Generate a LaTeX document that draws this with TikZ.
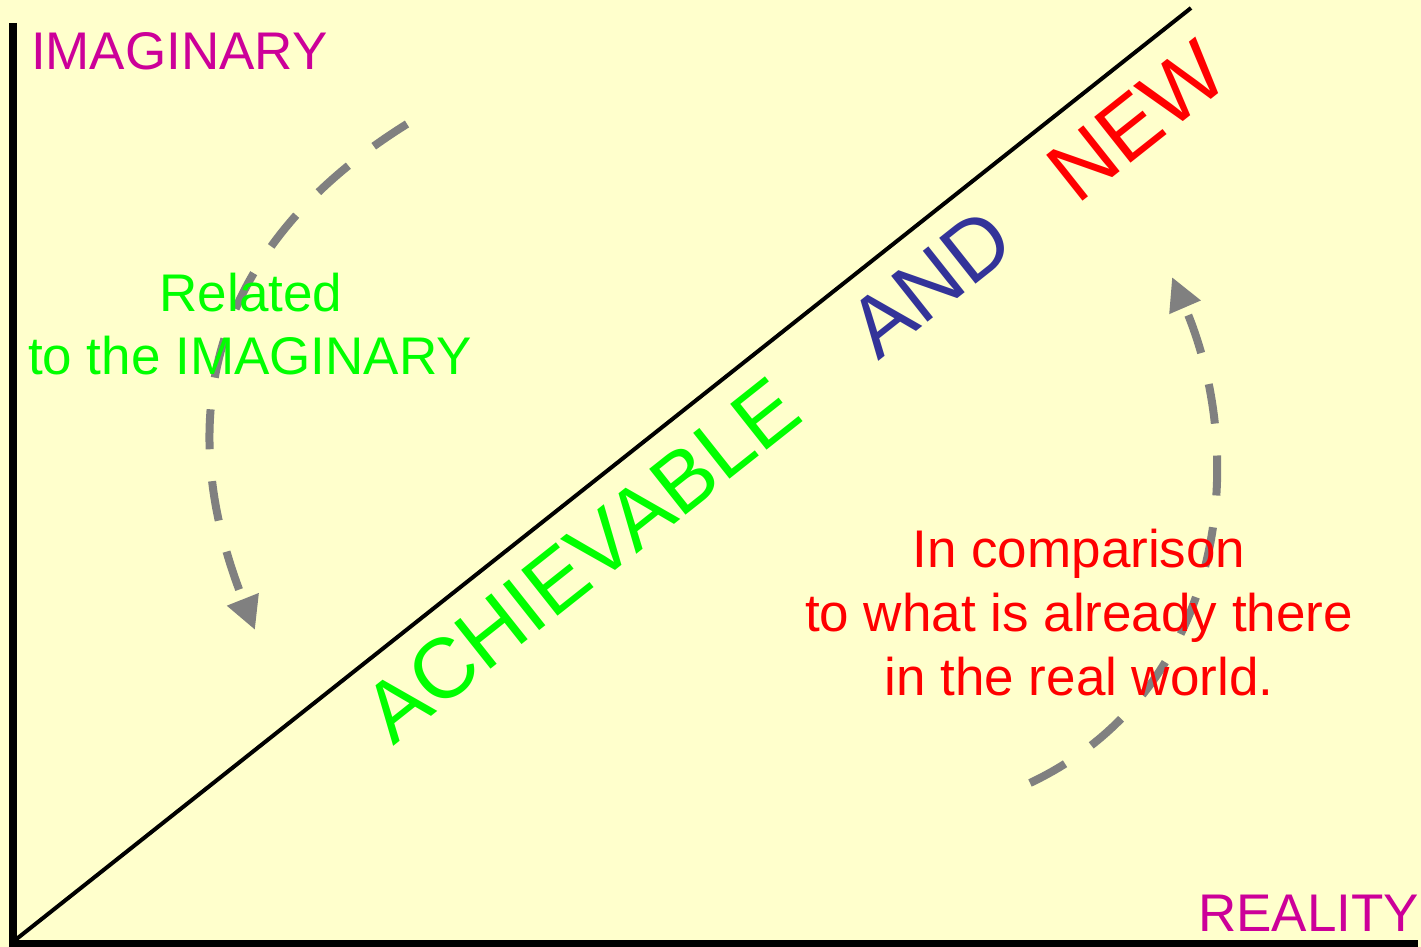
\documentclass[tikz,border=0pt]{standalone}
\usepackage{fontspec}
\setmainfont{Liberation Sans}
\usetikzlibrary{arrows.meta}
\definecolor{bgyellow}{HTML}{FFFFCC}
\definecolor{axislbl}{HTML}{CC0099}
\definecolor{brightgreen}{HTML}{00FF00}
\definecolor{brightred}{HTML}{FF0000}
\definecolor{andblue}{HTML}{333399}
\definecolor{arcgray}{HTML}{808080}
\begin{document}
\begin{tikzpicture}[x=1pt,y=1pt,
  lbl/.style={inner sep=0pt, outer sep=0pt, font=\fontsize{53}{63.5}\selectfont},
  diag/.style={inner sep=0pt, outer sep=0pt, anchor=base west, rotate=38.4, font=\fontsize{85}{100}\selectfont},
  arcarrow/.style={draw=arcgray, line width=8pt, dash pattern=on 40pt off 32pt, -{Triangle[length=33pt,width=32pt]}}]
\fill[bgyellow] (0,0) rectangle (1421,947);
\useasboundingbox (0,0) rectangle (1421,947);

% axes
\coordinate (ytop) at (13,924);
\coordinate (orig) at (13,2.5);
\coordinate (xend) at (1418,2.5);
\draw[line width=8pt] (ytop) -- (orig) -- (xend);
\coordinate (dstart) at (14,6);
\coordinate (dend) at (1191,939);
\draw[line width=4pt] (dstart) -- (dend);

% dashed arcs
\coordinate (la) at (407,823);
\coordinate (lb) at (255,317);
\draw[arcarrow] (la) .. controls (211.5,701) and (170,531) .. (lb);
\coordinate (ra) at (1030,164);
\coordinate (rb) at (1172,670);
\draw[arcarrow] (ra) .. controls (1220,254) and (1253,482) .. (rb);

% labels
\node[lbl, text=axislbl, anchor=base west] (imag) at (31,877) {IMAGINARY};
\node[lbl, text=axislbl, anchor=base east] (real) at (1419,15) {REALITY};
\node[lbl, text=brightgreen, anchor=base] (rel1) at (251,635) {Related};
\node[lbl, text=brightgreen, anchor=base] (rel2) at (250,572) {to the IMAGINARY};
\node[lbl, text=brightred, anchor=base] (cmp1) at (1079,379) {In comparison};
\node[lbl, text=brightred, anchor=base] (cmp2) at (1079,315) {to what is already there};
\node[lbl, text=brightred, anchor=base] (cmp3) at (1079,251) {in the real world.};

% diagonal words
\node[diag, text=brightgreen] (ach) at (393,200) {ACHIEVABLE};
\node[diag, text=andblue] (and) at (878,585) {AND};
\node[diag, text=brightred] (new) at (1077,741) {NEW};
\end{tikzpicture}
\end{document}
